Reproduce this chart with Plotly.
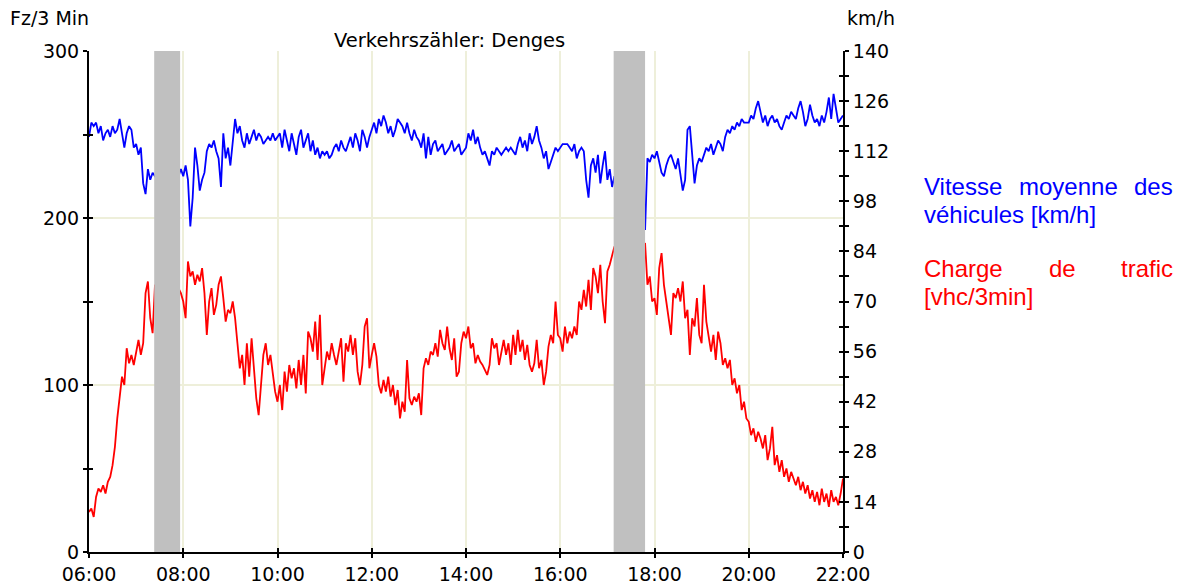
import plotly.graph_objects as go
import pandas as pd

# ---------------- data (3-minute intervals, 06:00 -> 22:00) ----------------
START = "2024-01-01 06:00"

# Charge de trafic [vhc/3min]  (left axis)
count = [
    24, 26, 21, 33, 38, 36, 40, 35, 42, 45, 52, 63, 80, 93, 105, 100, 122, 113, 118, 112,          # 06
    120, 127, 118, 125, 155, 162, 140, 131, 160, 158, 162, 165, 160, 163, 166, 162, 164, 160, 158, 155,  # 07
    150, 140, 174, 165, 168, 160, 166, 162, 170, 155, 130, 150, 158, 142, 148, 160, 165, 152, 138, 145,  # 08
    143, 150, 140, 125, 110, 118, 100, 125, 105, 128, 112, 92, 82, 100, 118, 125, 112, 118, 105, 96,     # 09
    90, 100, 85, 108, 96, 112, 104, 110, 98, 115, 100, 118, 95, 132, 128, 120, 138, 115, 142, 100,       # 10
    110, 120, 115, 125, 118, 112, 120, 128, 102, 125, 120, 130, 118, 128, 108, 100, 112, 135, 140, 110,  # 11
    118, 125, 117, 100, 95, 103, 96, 105, 93, 100, 88, 97, 80, 90, 84, 115, 92, 88, 93, 90,              # 12
    95, 82, 110, 116, 112, 120, 118, 125, 117, 133, 125, 121, 135, 122, 115, 128, 105, 108, 125, 132,    # 13
    128, 135, 122, 125, 113, 118, 114, 112, 109, 106, 112, 128, 122, 125, 112, 120, 127, 118, 125, 112,  # 14
    130, 118, 133, 120, 127, 115, 124, 112, 108, 113, 127, 110, 115, 100, 108, 123, 130, 125, 150, 130,  # 15
    128, 120, 135, 125, 132, 128, 135, 130, 150, 145, 157, 147, 163, 145, 170, 165, 155, 172, 150, 137,  # 16
    168, 172, 178, 183, 180, 182, 178, 184, 181, 179, 183, 180, 178, 182, 181, 183, 185, 160, 165, 150,  # 17
    152, 142, 170, 179, 160, 150, 140, 130, 155, 152, 158, 150, 162, 140, 145, 118, 140, 135, 152, 130,  # 18
    125, 160, 138, 128, 120, 130, 115, 132, 125, 112, 116, 110, 115, 100, 104, 95, 100, 85, 90, 80,      # 19
    78, 70, 74, 66, 72, 68, 62, 70, 55, 62, 75, 52, 58, 48, 55, 45, 50, 42, 48, 44,                      # 20
    40, 45, 37, 42, 35, 40, 32, 37, 30, 36, 28, 38, 30, 35, 27, 37, 30, 33, 28, 35, 44,                  # 21 + 22:00
]

# Vitesse moyenne des véhicules [km/h]  (right axis)
speed = [
    116, 120, 119, 120, 117, 119, 115, 117, 118, 116, 119, 117, 118, 121, 117, 113, 117, 119, 118, 113,  # 06
    114, 111, 113, 103, 100, 107, 104, 106, 105, 104, 106, 103, 105, 104, 106, 105, 104, 103, 105, 107,  # 07
    105, 108, 104, 91, 99, 113, 108, 101, 104, 106, 112, 114, 113, 115, 112, 110, 102, 117, 110, 113,    # 08
    108, 115, 121, 117, 119, 115, 113, 117, 114, 116, 118, 115, 117, 116, 114, 115, 116, 115, 117, 115,  # 09
    116, 117, 113, 118, 115, 112, 117, 114, 111, 116, 118, 113, 115, 117, 112, 115, 111, 113, 110, 112,  # 10
    111, 112, 110, 111, 113, 114, 112, 115, 113, 112, 114, 116, 113, 117, 115, 112, 118, 116, 113, 116,  # 11
    118, 120, 117, 121, 119, 122, 120, 117, 119, 116, 118, 121, 120, 119, 117, 120, 117, 115, 118, 116,  # 12
    115, 113, 117, 110, 116, 111, 114, 115, 112, 113, 114, 111, 112, 113, 115, 112, 113, 114, 111, 112,  # 13
    113, 117, 115, 118, 114, 116, 113, 111, 112, 110, 108, 112, 111, 113, 112, 111, 112, 113, 112, 113,  # 14
    112, 111, 114, 116, 113, 115, 112, 117, 114, 116, 119, 115, 113, 110, 112, 107, 109, 111, 113, 112,  # 15
    113, 114, 114, 114, 113, 112, 114, 110, 112, 113, 112, 104, 99, 108, 110, 106, 111, 103, 108, 112,   # 16
    104, 107, 102, 105, 103, 100, 99, 101, 103, 102, 104, 103, 105, 104, 102, 103, 90, 110, 109, 111,    # 17
    110, 112, 109, 106, 105, 108, 110, 111, 109, 107, 110, 106, 101, 104, 118, 119, 112, 103, 108, 110,  # 18
    109, 111, 113, 112, 114, 111, 113, 115, 114, 112, 116, 118, 117, 119, 118, 120, 119, 121, 120, 120,  # 19
    120, 122, 121, 124, 126, 123, 120, 122, 119, 121, 122, 120, 121, 119, 118, 120, 122, 121, 123, 122,  # 20
    121, 124, 126, 123, 119, 121, 125, 122, 120, 121, 119, 122, 120, 123, 127, 121, 128, 124, 120, 121, 122,  # 21 + 22:00
]

# grey periods (missing / masked data)
band_start = ["2024-01-01 07:23", "2024-01-01 17:08"]
band_end = ["2024-01-01 07:56", "2024-01-01 17:48"]

x_range = ["2024-01-01 06:00", "2024-01-01 22:00"]
left_range = [0, 300]
right_range = [0, 140]

times = pd.date_range(START, periods=len(count), freq="3min")

# ---------------- styling ----------------
GRID = "#EEEFDA"
AX_FONT = dict(family="DejaVu Sans", size=19, color="black")
LEG_FONT = "Liberation Sans, Arial, sans-serif"

# The page body has an 8px margin, so the figure is drawn 8px smaller and
# every page-pixel position is shifted by that offset.
OFF = 8
W, H = 1185 - OFF, 584 - OFF
# plot area in page pixels
L, R, T, B = 89, 843, 51, 552


def px(xp):
    return (xp - L) / (R - L)


def py(yp):
    return (B - yp) / (B - T)


fig = go.Figure()

fig.add_trace(go.Scatter(
    x=times, y=count, mode="lines", line=dict(color="#FF0000", width=1.8),
    name="Charge de trafic [vhc/3min]", yaxis="y", hoverinfo="skip",
))
fig.add_trace(go.Scatter(
    x=times, y=speed, mode="lines", line=dict(color="#0000FF", width=1.8),
    name="Vitesse moyenne des véhicules [km/h]", yaxis="y2", hoverinfo="skip",
))
# invisible helper traces that activate the inner-tick overlay axes
fig.add_trace(go.Scatter(x=[times[0]], y=[left_range[0]], xaxis="x2", yaxis="y3",
                         mode="markers", marker=dict(opacity=0), showlegend=False,
                         hoverinfo="skip"))
fig.add_trace(go.Scatter(x=[times[0]], y=[right_range[0]], xaxis="x", yaxis="y4",
                         mode="markers", marker=dict(opacity=0), showlegend=False,
                         hoverinfo="skip"))

for s, e in zip(band_start, band_end):
    fig.add_shape(type="rect", xref="x", yref="paper", x0=s, x1=e, y0=0, y1=1,
                  fillcolor="#C0C0C0", line=dict(width=0), layer="above")

tick_common = dict(tickcolor="black", tickwidth=1.5, ticklen=4)

fig.update_layout(
    width=W, height=H,
    margin=dict(l=L - OFF, r=1185 - R, t=T - OFF, b=584 - B, pad=0, autoexpand=False),
    paper_bgcolor="white", plot_bgcolor="white",
    showlegend=False,
    font=AX_FONT,
    xaxis=dict(
        type="date", range=x_range, tick0=x_range[0], dtick=2 * 3600 * 1000,
        tickformat="%H:%M", showgrid=True, gridcolor=GRID, gridwidth=1.5,
        showline=True, linecolor="black", linewidth=2, zeroline=False,
        ticks="outside", tickfont=AX_FONT, automargin=False, **tick_common,
    ),
    xaxis2=dict(
        type="date", range=x_range, tick0=x_range[0], dtick=2 * 3600 * 1000,
        overlaying="x", anchor="y", side="bottom", showgrid=False,
        showticklabels=False, showline=False, zeroline=False,
        ticks="inside", automargin=False, **tick_common,
    ),
    yaxis=dict(
        range=left_range, dtick=100, showgrid=True, gridcolor=GRID, gridwidth=1.5,
        showline=True, linecolor="black", linewidth=2, zeroline=False,
        ticks="outside", tickfont=AX_FONT, automargin=False, **tick_common,
        minor=dict(dtick=50, ticks="outside", ticklen=4, tickcolor="black",
                   tickwidth=1.5, showgrid=False),
    ),
    yaxis3=dict(
        range=left_range, dtick=50, overlaying="y", anchor="x", side="left",
        showgrid=False, showticklabels=False, showline=False, zeroline=False,
        ticks="inside", automargin=False, **tick_common,
    ),
    yaxis2=dict(
        range=right_range, dtick=14, overlaying="y", anchor="x", side="right",
        showgrid=False, showline=True, linecolor="black", linewidth=2,
        zeroline=False, ticks="outside", tickfont=AX_FONT, automargin=False,
        **tick_common,
        minor=dict(dtick=7, ticks="outside", ticklen=4, tickcolor="black",
                   tickwidth=1.5, showgrid=False),
    ),
    yaxis4=dict(
        range=right_range, dtick=7, overlaying="y", anchor="x", side="right",
        showgrid=False, showticklabels=False, showline=False, zeroline=False,
        ticks="inside", automargin=False, **tick_common,
    ),
)

leg = lambda c: dict(family=LEG_FONT, size=24, color=c)
annotations = [
    # axis captions and title
    dict(text="Fz/3 Min", x=px(8), y=py(18), xanchor="left", yanchor="middle",
         font=AX_FONT),
    dict(text="km/h", x=px(845), y=py(18), xanchor="left", yanchor="middle",
         font=AX_FONT),
    dict(text="Verkehrszähler: Denges", x=px(449), y=py(41), xanchor="center",
         yanchor="middle", font=dict(family="DejaVu Sans", size=19.5, color="black")),
    # justified legend text (blue)
    dict(text="Vitesse", x=px(922), y=py(186), xanchor="left", yanchor="middle",
         font=leg("#0000FF")),
    dict(text="moyenne", x=px(1068), y=py(186), xanchor="center", yanchor="middle",
         font=leg("#0000FF")),
    dict(text="des", x=px(1175), y=py(186), xanchor="right", yanchor="middle",
         font=leg("#0000FF")),
    dict(text="véhicules [km/h]", x=px(922), y=py(214), xanchor="left", yanchor="middle",
         font=leg("#0000FF")),
    # justified legend text (red)
    dict(text="Charge", x=px(922), y=py(268), xanchor="left", yanchor="middle",
         font=leg("#FF0000")),
    dict(text="de", x=px(1062), y=py(268), xanchor="center", yanchor="middle",
         font=leg("#FF0000")),
    dict(text="trafic", x=px(1175), y=py(268), xanchor="right", yanchor="middle",
         font=leg("#FF0000")),
    dict(text="[vhc/3min]", x=px(922), y=py(296), xanchor="left", yanchor="middle",
         font=leg("#FF0000")),
]
for a in annotations:
    a.update(xref="paper", yref="paper", showarrow=False)
fig.update_layout(annotations=annotations)

fig.write_html("out.html")
